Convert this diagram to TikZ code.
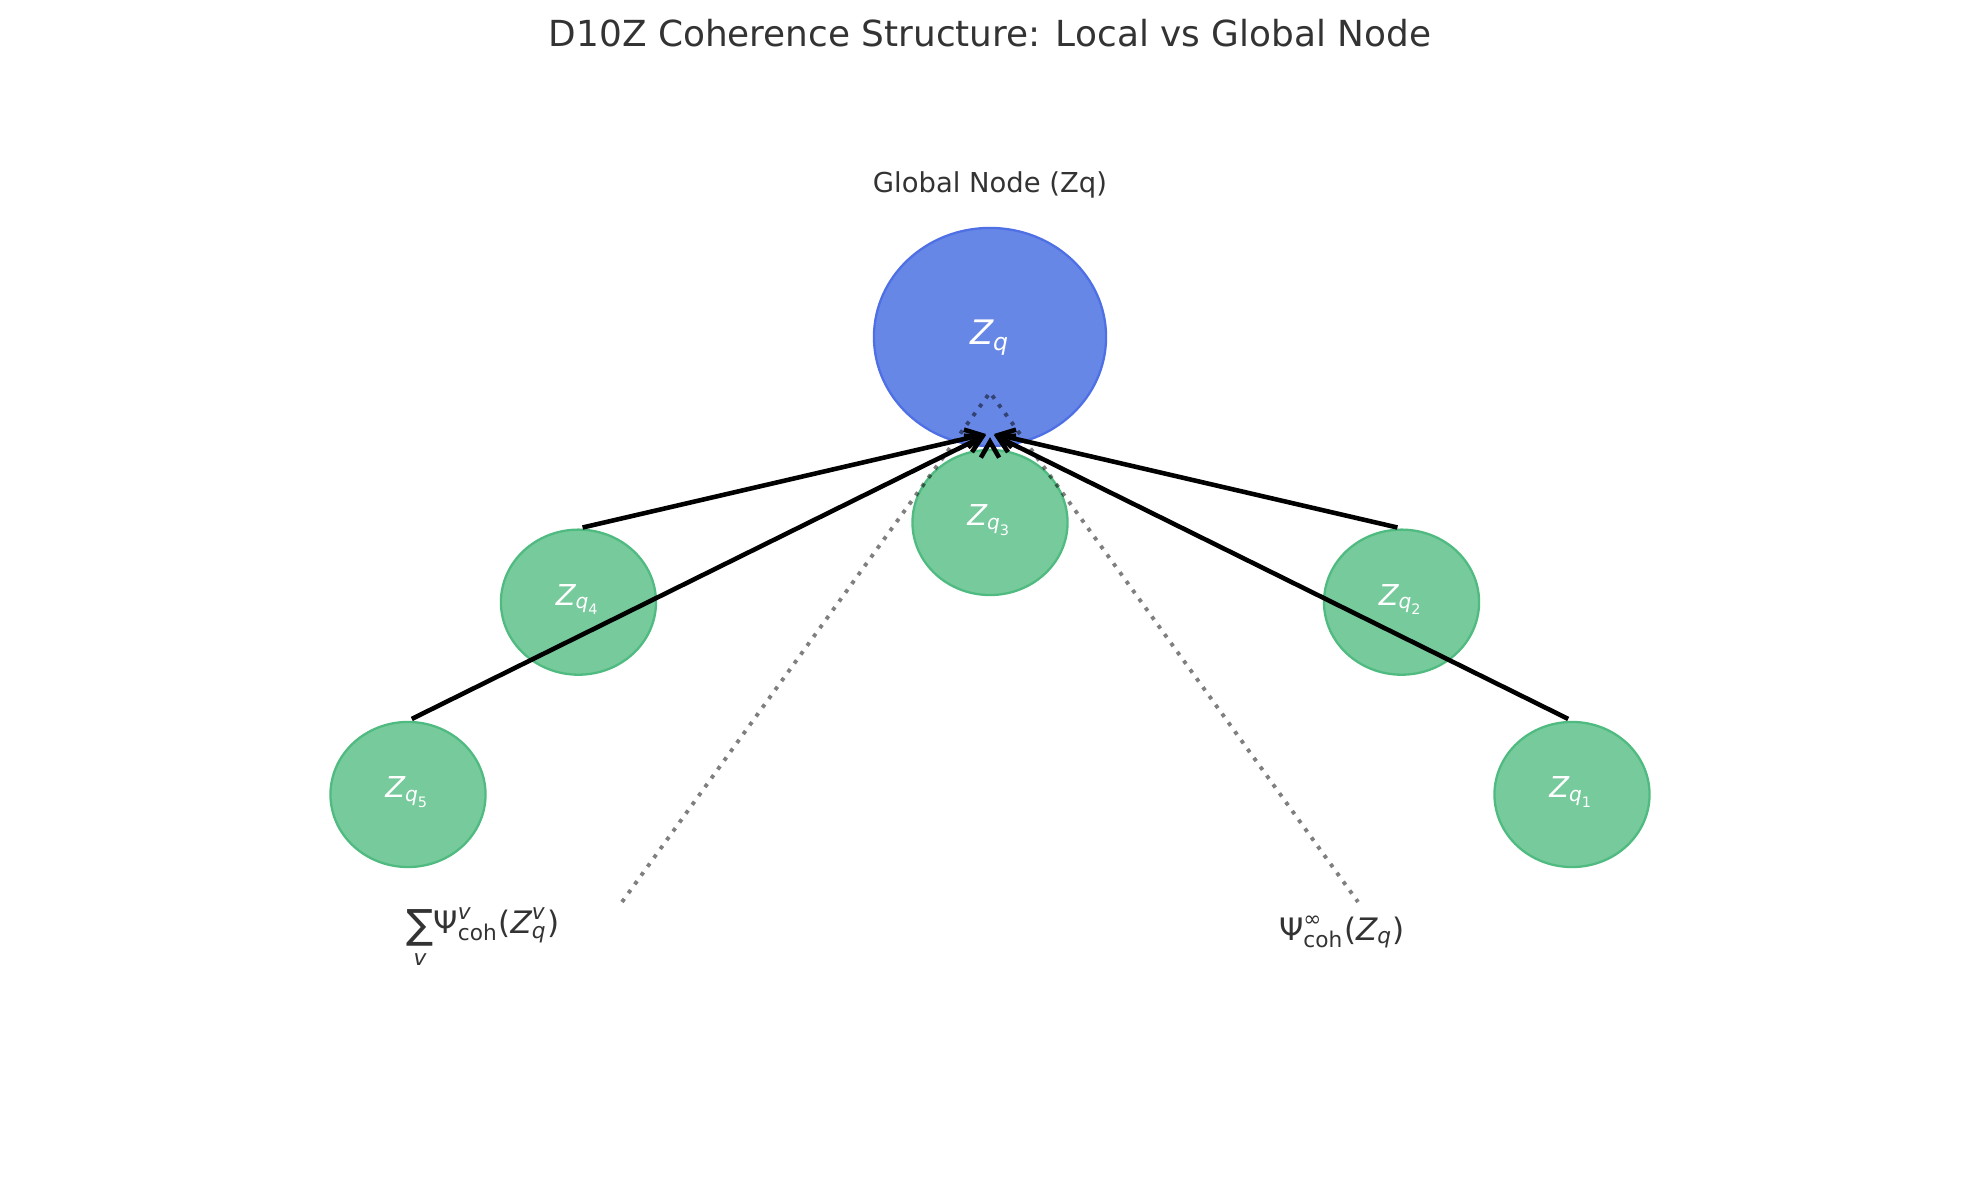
\documentclass[tikz,border=0pt]{standalone}
\usepackage{fontspec}
\setmainfont{DejaVu Sans}
\usepackage{amsmath}
\usepackage{graphicx}
\usepackage{tikz}
\usetikzlibrary{arrows.meta}
\usetikzlibrary{shapes.geometric}
\definecolor{globalblue}{RGB}{103,135,231}
\definecolor{globaledge}{RGB}{78,112,228}
\definecolor{localgreen}{RGB}{118,202,156}
\definecolor{localedge}{RGB}{80,187,128}
\definecolor{inkgray}{RGB}{51,51,51}
\newcommand{\mi}[1]{\text{\itshape #1}}
\newcommand{\bigsum}{\text{\raisebox{-1.6pt}{\scalebox{1.3}{∑}}}}

\begin{document}
\begin{tikzpicture}[x=0.01cm,y=-0.01cm,
  localnode/.style={ellipse,draw=localedge,fill=localgreen,line width=0.65pt,inner sep=0pt,minimum width=1.55cm,minimum height=1.45cm},
  globalnode/.style={ellipse,draw=globaledge,fill=globalblue,line width=0.65pt,inner sep=0pt,minimum width=2.32cm,minimum height=2.18cm},
  nodetext/.style={text=white,anchor=base,inner sep=0pt},
  link/.style={line width=1.3pt,-{Straight Barb[length=4.5pt,width=5.2pt]},shorten <=1.2pt,shorten >=1.2pt},
  cone/.style={line width=1.1pt,dash pattern=on 1.1pt off 2pt,draw opacity=0.5},
  caption/.style={text=inkgray,anchor=base,inner sep=0pt}]
\fill [white] (0,0) rectangle (1979,1180);
\useasboundingbox (0,0) rectangle (1979,1180);
\node [caption,font=\fontsize{10.2}{12}\selectfont] (title) at (990,47) {D10Z Coherence Structure: Local vs Global Node};
\node [caption,font=\fontsize{7.8}{9}\selectfont] (globalcap) at (990,193) {Global Node (Zq)};
\node [globalnode] (zq) at (990,337) {};
\node [nodetext,font=\fontsize{9.6}{11}\selectfont] at (990,345) {$\mi{Z}_{\mi{q}}$};
\foreach \k/\a in {1/0,2/45,3/90,4/135,5/180} {
  \node [localnode] (q\k) at ({990+582*cos(\a)},{794.5-272*sin(\a)}) {};
  \node [nodetext,font=\fontsize{8.2}{9}\selectfont] at ({990+582*cos(\a)},{797.7-272*sin(\a)}) {$\mi{Z}_{\mi{q}_{\text{\k}}}$};
}
\coordinate (apex) at (990,392.5);
\coordinate (coneleft) at (622,902);
\coordinate (coneright) at (1358,902);
\draw [cone] (coneleft) -- (apex) -- (coneright);
\coordinate (hub) at (990,433);
\foreach \k in {1,...,5}
  \draw [link] (q\k.north) -- (hub);
\node [caption,font=\fontsize{8.8}{11}\selectfont] (sumlabel) at (483,933) {$\mathop{\bigsum}\limits_{\mi{v}}\!\text{Ψ}^{\mi{v}}_{\text{coh}}\text{(}\mi{Z}^{\mi{v}}_{\mi{q}}\text{)}$};
\node [caption,font=\fontsize{8.8}{11}\selectfont] (inflabel) at (1342,940) {$\text{Ψ}^{\text{∞}}_{\text{coh}}\text{(}\mi{Z}_{\mi{q}}\text{)}$};
\end{tikzpicture}
\end{document}
